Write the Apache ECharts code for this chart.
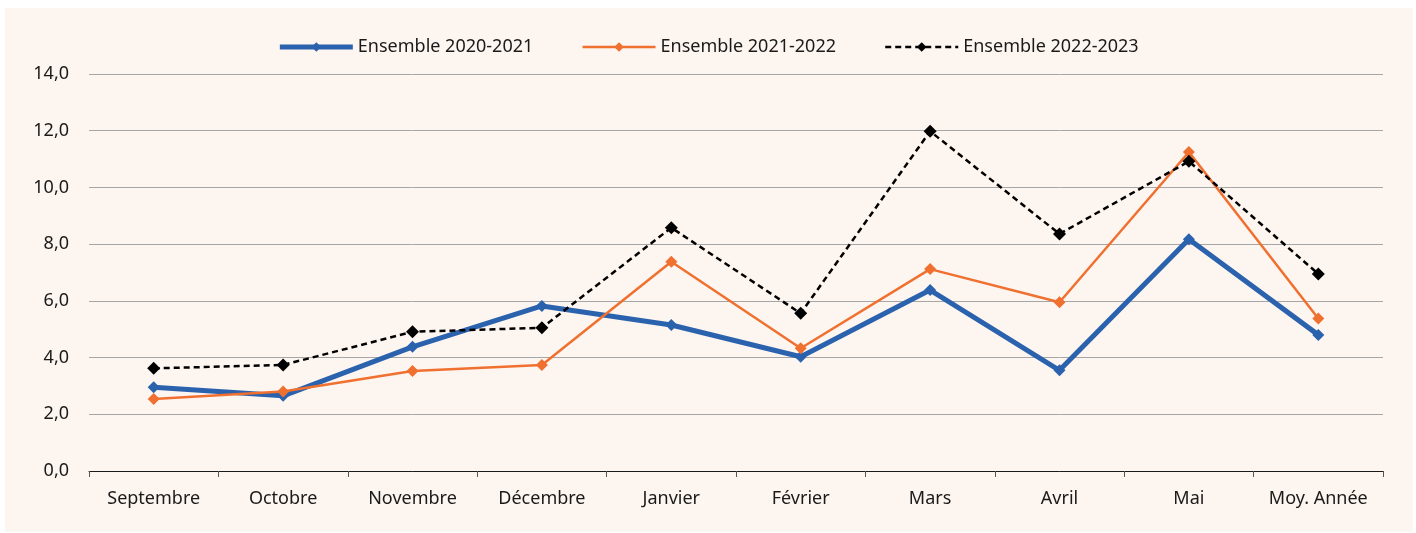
<!DOCTYPE html>
<html>
<head>
<meta charset="utf-8">
<script src="https://cdn.jsdelivr.net/npm/echarts@6/dist/echarts.min.js"></script>
<style>
  html, body { margin: 0; padding: 0; background: #fff; }
  #panel { position: absolute; left: 5px; top: 8px; width: 1408px; height: 524px; background: #fdf5ef; }
  #chart { position: absolute; left: 0; top: 0; width: 1416px; height: 533px; }
</style>
</head>
<body>
<div id="panel"></div>
<div id="chart"></div>
<script>
// données du graphique
const months = ['Septembre', 'Octobre', 'Novembre', 'Décembre', 'Janvier', 'Février', 'Mars', 'Avril', 'Mai', 'Moy. Année'];
const s2020 = [2.95, 2.65, 4.38, 5.82, 5.15, 4.03, 6.38, 3.55, 8.17, 4.8];
const s2021 = [2.54, 2.8, 3.53, 3.74, 7.38, 4.33, 7.12, 5.95, 11.25, 5.38];
const s2022 = [3.62, 3.74, 4.91, 5.05, 8.58, 5.56, 11.98, 8.36, 10.92, 6.95];
const yLabels = ['0,0', '2,0', '4,0', '6,0', '8,0', '10,0', '12,0', '14,0'];

const font = '"Noto Sans", sans-serif';
let myChart = echarts.init(document.getElementById('chart'));
myChart.setOption({
    animation: false,
    textStyle: { fontFamily: font },
    legend: {
        top: 33,
        left: 'center',
        itemWidth: 73,
        itemHeight: 12,
        itemGap: 48,
        textStyle: { fontSize: 18, color: '#1a1a1a', fontFamily: font },
        data: [
            { name: 'Ensemble 2020-2021', lineStyle: { width: 5 } },
            { name: 'Ensemble 2021-2022', lineStyle: { width: 2.5 } },
            { name: 'Ensemble 2022-2023', lineStyle: { width: 2.5 } }
        ]
    },
    grid: { left: 89, right: 33, top: 74, bottom: 62 },
    xAxis: {
        type: 'category',
        data: months,
        boundaryGap: true,
        axisLine: { lineStyle: { color: '#1a1a1a', width: 1 } },
        axisTick: { show: true, length: 6, lineStyle: { color: '#555' } },
        axisLabel: { color: '#1a1a1a', fontSize: 18, margin: 19, fontFamily: font }
    },
    yAxis: {
        type: 'value',
        min: 0,
        max: 14,
        interval: 2,
        axisLine: { show: false },
        axisTick: { show: false },
        axisLabel: {
            color: '#1a1a1a', fontSize: 18, margin: 20, fontFamily: font,
            formatter: v => yLabels[Math.round(v / 2)]
        },
        splitLine: { lineStyle: { color: '#a6a6a6', width: 1 } }
    },
    series: [
        {
            name: 'Ensemble 2020-2021',
            type: 'line',
            data: s2020,
            symbol: 'diamond',
            symbolSize: 12,
            lineStyle: { color: '#2b62ad', width: 5 },
            itemStyle: { color: '#2b62ad' },
            z: 2
        },
        {
            name: 'Ensemble 2021-2022',
            type: 'line',
            data: s2021,
            symbol: 'diamond',
            symbolSize: 12,
            lineStyle: { color: '#f07030', width: 2.5 },
            itemStyle: { color: '#f07030' },
            z: 3
        },
        {
            name: 'Ensemble 2022-2023',
            type: 'line',
            data: s2022,
            symbol: 'diamond',
            symbolSize: 13,
            lineStyle: { color: '#000', width: 2.5, type: [6, 4] },
            itemStyle: { color: '#000' },
            z: 4
        }
    ]
});
window.addEventListener('resize', () => myChart.resize());
</script>
</body>
</html>
